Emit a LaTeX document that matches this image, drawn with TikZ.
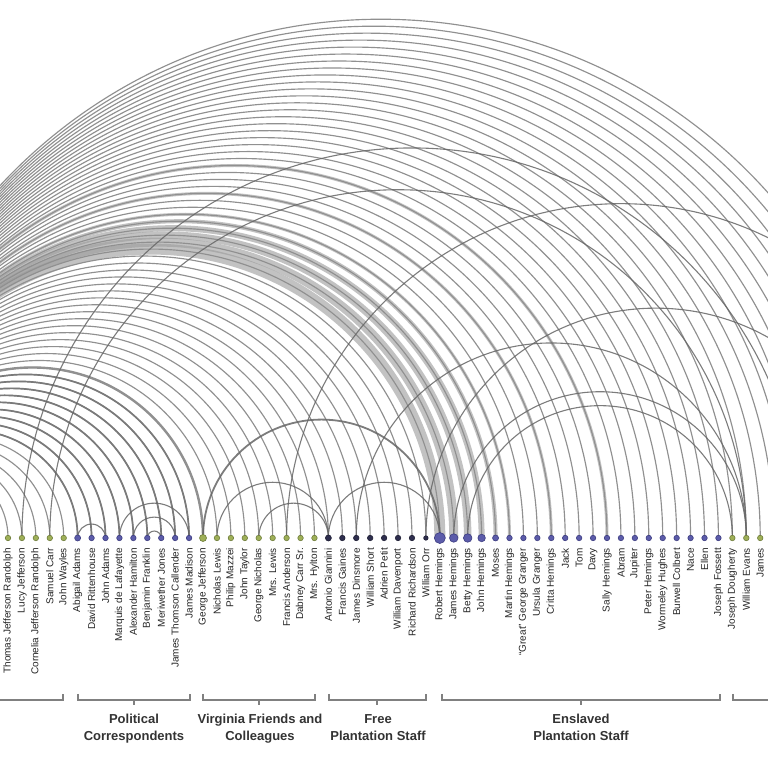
\documentclass[tikz,border=0pt]{standalone}
\usepackage{fontspec}
\setmainfont{Liberation Sans}
\definecolor{cg}{HTML}{9FB058}
\definecolor{cgD}{HTML}{6E7C3A}
\definecolor{cb}{HTML}{5C5CAA}
\definecolor{cbD}{HTML}{3C3C80}
\definecolor{cd}{HTML}{2E2E4E}
\definecolor{cdD}{HTML}{1E1E34}
\definecolor{arcgray}{HTML}{909090}
\definecolor{bandgray}{HTML}{9A9A9A}
\definecolor{brkgray}{HTML}{808080}
\pgfdeclarelayer{bg}
\pgfsetlayers{bg,main}
\newcommand\arcpair[3]{%
  \pgfmathsetmacro\rr{13.93*(#2-#1)/2}%
  \draw[#3] (n#2.center) arc[start angle=0,end angle=180,radius=\rr pt];}
\begin{document}
\begin{tikzpicture}[x=1pt,y=1pt,
  pdot/.style={circle,inner sep=0pt,line width=0.6pt},
  lab/.style={rotate=90,anchor=east,inner sep=0pt,text=black!85,font=\fontsize{10}{12}\selectfont},
  arcln/.style={draw=arcgray,line width=1.15pt},
  polarc/.style={draw=arcgray!85!black,line width=1.7pt},
  crossarc/.style={draw=gray!80!black,line width=1.1pt,opacity=0.85},
  bandarc/.style={draw=bandgray,opacity=0.6},
  grp/.style={anchor=north,align=center,inner sep=0pt,text=black!80,font=\bfseries\fontsize{13}{17}\selectfont},
  brk/.style={draw=brkgray,line width=1.2pt}]
\useasboundingbox (0,0) rectangle (767,767);
% nodes
\foreach \i/\nm/\s/\z in {
0/Thomas Jefferson Randolph/g/5.5,
1/Lucy Jefferson/g/5.5,
2/Cornelia Jefferson Randolph/g/5.5,
3/Samuel Carr/g/5.5,
4/John Wayles/g/5.5,
5/Abigail Adams/b/6,
6/David Rittenhouse/b/5.5,
7/John Adams/b/5.5,
8/Marquis de Lafayette/b/5.5,
9/Alexander Hamilton/b/5.5,
10/Benjamin Franklin/b/5.5,
11/Meriwether Jones/b/5.5,
12/James Thomson Callender/b/5.5,
13/James Madison/b/5.5,
14/George Jefferson/g/7,
15/Nicholas Lewis/g/5.5,
16/Philip Mazzei/g/5.5,
17/John Taylor/g/5.5,
18/George Nicholas/g/5.5,
19/Mrs. Lewis/g/5.5,
20/Francis Anderson/g/5.5,
21/Dabney Carr Sr./g/5.5,
22/Mrs. Hylton/g/5.5,
23/Antonio Giannini/d/6,
24/Francis Gaines/d/5.5,
25/James Dinsmore/d/5.5,
26/William Short/d/5.5,
27/Adrien Petit/d/5.5,
28/William Davenport/d/5.5,
29/Richard Richardson/d/5.5,
30/William Orr/d/4.5,
31/Robert Hemings/b/11,
32/James Hemings/b/8.5,
33/Betty Hemings/b/8.5,
34/John Hemings/b/7.5,
35/Moses/b/6,
36/Martin Hemings/b/5.5,
37/“Great” George Granger/b/5.5,
38/Ursula Granger/b/5.5,
39/Critta Hemings/b/5.5,
40/Jack/b/5.5,
41/Tom/b/5.5,
42/Davy/b/5.5,
43/Sally Hemings/b/5.5,
44/Abram/b/5.5,
45/Jupiter/b/5.5,
46/Peter Hemings/b/5.5,
47/Wormeley Hughes/b/5.5,
48/Burwell Colbert/b/5.5,
49/Nace/b/5.5,
50/Ellen/b/5.5,
51/Joseph Fossett/b/5.5,
52/Joseph Dougherty/g/5.5,
53/William Evans/g/5.5,
54/James/g/5.5}{
  \node[pdot,fill=c\s,draw=c\s D,minimum size=\z pt] (n\i) at ({8+13.93*\i},229) {};
  \node[lab] (l\i) at ({8+13.93*\i},219) {\nm};
}
% nodes beyond the right edge and the hub beyond the left edge
\foreach \i in {55,...,75}{\coordinate (n\i) at ({8+13.93*\i},229);}
\coordinate (hub) at (-138,229);
\begin{pgfonlayer}{bg}
  \fill[white] (0,0) rectangle (767,767);
  % thick band to the Hemings family
  \foreach \i/\w in {31/11,32/9,33/7.5,34/6,35/4,36/3,39/3,43/3}{
    \pgfmathsetmacro\r{(8+13.93*\i+138)/2}
    \draw[bandarc,line width=\w pt] (n\i.center) arc[start angle=0,end angle=180,radius=\r pt];
  }
  % arcs from the hub to every node
  \foreach \i in {0,...,64}{
    \pgfmathsetmacro\r{(8+13.93*\i+138)/2}
    \draw[arcln] (n\i.center) arc[start angle=0,end angle=180,radius=\r pt];
  }
  \foreach \i in {5,...,13}{
    \pgfmathsetmacro\r{(8+13.93*\i+138)/2}
    \draw[polarc] (n\i.center) arc[start angle=0,end angle=180,radius=\r pt];
  }
  \pgfmathsetmacro\r{(8+13.93*14+138)/2}
  \draw[arcln,line width=2.4pt] (n14.center) arc[start angle=0,end angle=180,radius=\r pt];
  % arcs between the people shown
  \arcpair{5}{7}{crossarc}
  \arcpair{10}{11}{crossarc}
  \arcpair{9}{12}{crossarc}
  \arcpair{8}{13}{crossarc}
  \arcpair{14}{31}{crossarc,line width=1.8pt}
  \arcpair{15}{23}{crossarc}
  \arcpair{18}{23}{crossarc}
  \arcpair{23}{31}{crossarc}
  \arcpair{25}{53}{crossarc}
  \arcpair{30}{63}{crossarc}
  \arcpair{32}{53}{crossarc}
  \arcpair{33}{52}{crossarc}
  \arcpair{1}{57}{crossarc}
  \arcpair{3}{53}{crossarc}
  \arcpair{20}{68}{crossarc}
\end{pgfonlayer}
% group brackets
\coordinate (bA) at (-20,67);
\draw[brk] (bA) -- (63,67) -- (63,73);
\foreach \a/\b/\m in {78/190/134,203/315/259,329/426/377,442/720/581}{
  \draw[brk] (\a,73) -- (\a,67) -- (\b,67) -- (\b,73);
  \draw[brk] (\m,67) -- (\m,62);
}
\coordinate (bZ) at (790,67);
\draw[brk] (733,73) -- (733,67) -- (bZ);
% group labels
\node[grp] (g1) at (134,53) {Political\\Correspondents};
\node[grp] (g2) at (260,53) {Virginia Friends and\\Colleagues};
\node[grp] (g3) at (378,53) {Free\\Plantation Staff};
\node[grp] (g4) at (581,53) {Enslaved\\Plantation Staff};
\end{tikzpicture}
\end{document}
